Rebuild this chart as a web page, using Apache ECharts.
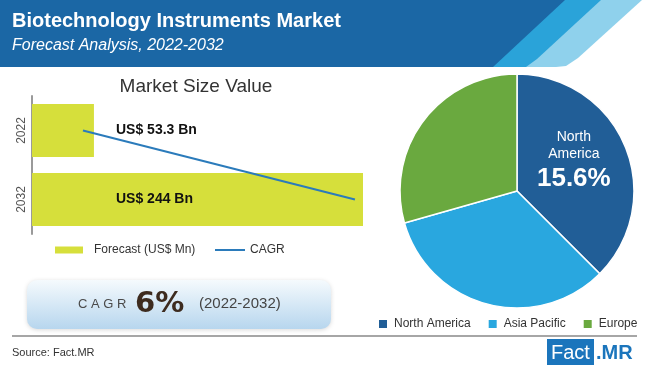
<!DOCTYPE html>
<html>
<head>
<meta charset="utf-8">
<script src="https://cdn.jsdelivr.net/npm/echarts@6/dist/echarts.min.js"></script>
<style>
html,body{margin:0;padding:0;background:#fff;}
#c{width:650px;height:370px;}
</style>
</head>
<body>
<div id="c"></div>
<script>
// ---- data ----
const years = ['2022', '2032'];
const marketSize = [53.3, 244];          // US$ Bn
const cagrLine = [45.5, 238.3];           // CAGR trend line (as drawn)
const regions = ['North America', 'Asia Pacific', 'Europe'];
const regionShare = [37.5, 33.1, 29.4];
const naCagrLabel = '15.6%';
const cagrValue = '6%';
const cagrPeriod = '(2022-2032)';
const titleText = 'Biotechnology Instruments Market';
const subtitleText = 'Forecast Analysis, 2022-2032';

const FONT = '"Liberation Sans", Arial, sans-serif';
const chart = echarts.init(document.getElementById('c'), null, {renderer: 'canvas'});

const option = {
  backgroundColor: '#ffffff',
  animation: false,
  grid: {left: 32, top: 96, width: 331, height: 138, containLabel: false},
  xAxis: {
    type: 'value', min: 9.4, max: 244, show: false,
    splitLine: {show: false}
  },
  yAxis: {
    type: 'category', data: years, inverse: true,
    axisLine: {show: true, lineStyle: {color: '#9a9a9a', width: 2}},
    axisTick: {show: false},
    axisLabel: {rotate: 90, fontSize: 12, color: '#555', margin: 4, fontFamily: FONT}
  },
  legend: [
    {
      data: ['Forecast (US$ Mn)'], left: 55, top: 244, icon: 'rect', padding: 0,
      itemWidth: 28, itemHeight: 7,
      textStyle: {fontSize: 12, color: '#333', fontFamily: FONT, padding: [0, 0, 0, 6]}
    },
    {
      data: ['CAGR'], left: 215, top: 244, icon: 'rect', padding: 0,
      itemWidth: 30, itemHeight: 2,
      textStyle: {fontSize: 12, color: '#333', fontFamily: FONT}
    },
    {
      data: regions, left: 377, top: 318, width: 273, icon: 'rect', padding: 0,
      itemWidth: 10, itemHeight: 10, itemGap: 16,
      textStyle: {fontSize: 12, color: '#333', fontFamily: FONT, padding: [0, 0, 0, 1]}
    }
  ],
  series: [
    {
      name: 'Forecast (US$ Mn)', type: 'bar', data: marketSize,
      barCategoryGap: '23%',
      itemStyle: {color: '#d6df3b'},
      label: {
        show: true, position: [84, '50%'], align: 'left', verticalAlign: 'middle',
        formatter: p => 'US$ ' + p.value + ' Bn',
        fontFamily: FONT, fontWeight: 'bold', fontSize: 14, color: '#111'
      },
      z: 2
    },
    {
      name: 'CAGR', type: 'line', data: cagrLine, symbol: 'none',
      lineStyle: {color: '#2b7bbb', width: 2}, itemStyle: {color: '#2b7bbb'},
      z: 3
    },
    {
      name: 'Region', type: 'pie', center: [517, 191], radius: 117,
      startAngle: 90, clockwise: true,
      itemStyle: {borderColor: '#fff', borderWidth: 1.5},
      data: regions.map((r, i) => ({
        name: r, value: regionShare[i],
        itemStyle: {color: ['#215e97', '#29a7df', '#6aa93f'][i]},
        label: i === 0 ? {
          show: true, position: 'inside', offset: [0, -6],
          formatter: '{a|North}\n{a|America}\n{b|' + naCagrLabel + '}',
          rich: {
            a: {color: '#fff', fontSize: 14, lineHeight: 17, fontFamily: FONT},
            b: {color: '#fff', fontSize: 26, fontWeight: 'bold', lineHeight: 32, fontFamily: FONT}
          }
        } : {show: false}
      })),
      labelLine: {show: false},
      emphasis: {disabled: true}
    }
  ],
  graphic: [
    // header band
    {type: 'polygon', shape: {points: [[490, 67], [560, 0], [642, 0], [578, 58], [566, 66], [556, 67]]},
     style: {fill: '#8fd1ec'}, z: 0},
    {type: 'polygon', shape: {points: [[490, 67], [562, 0], [601, 0], [537, 59], [526, 67]]},
     style: {fill: '#2aa3d9'}, z: 1},
    {type: 'polygon', shape: {points: [[0, 0], [565, 0], [493, 67], [0, 67]]},
     style: {fill: '#1b67a5'}, z: 2},
    {type: 'text', x: 12, y: 21, z: 3,
     style: {text: titleText, fill: '#fff', font: 'bold 20px ' + FONT, verticalAlign: 'middle'}},
    {type: 'text', x: 12, y: 46, z: 3,
     style: {text: subtitleText, fill: '#fff', font: 'italic 16px ' + FONT, verticalAlign: 'middle'}},
    // bar chart title
    {type: 'text', x: 196, y: 87,
     style: {text: 'Market Size Value', fill: '#333', font: '19px ' + FONT, align: 'center', verticalAlign: 'middle'}},
    // CAGR box
    {type: 'rect', shape: {x: 27, y: 280, width: 304, height: 49, r: 10},
     style: {
       fill: new echarts.graphic.LinearGradient(0, 0, 0, 1, [
         {offset: 0, color: '#f5fafd'}, {offset: 1, color: '#b7d6ee'}
       ]),
       shadowBlur: 4, shadowColor: 'rgba(0,0,0,0.15)', shadowOffsetY: 1
     }},
    {type: 'text', x: 78, y: 304,
     style: {text: 'C A G R', fill: '#4a4a4a', font: '13px ' + FONT, verticalAlign: 'middle'}},
    {type: 'text', x: 135, y: 304,
     style: {text: cagrValue, fill: '#3d2b1f', font: 'bold 29px "DejaVu Sans", sans-serif', verticalAlign: 'middle'}},
    {type: 'text', x: 199, y: 304,
     style: {text: cagrPeriod, fill: '#444', font: '15px ' + FONT, verticalAlign: 'middle'}},
    // footer line
    {type: 'line', shape: {x1: 12, y1: 336, x2: 637, y2: 336},
     style: {stroke: '#a6a6a6', lineWidth: 2}},
    {type: 'text', x: 12, y: 353,
     style: {text: 'Source: Fact.MR', fill: '#333', font: '11px ' + FONT, verticalAlign: 'middle'}},
    // logo
    {type: 'rect', shape: {x: 547, y: 339, width: 47, height: 26}, style: {fill: '#1b75bc'}},
    {type: 'text', x: 551, y: 353,
     style: {text: 'Fact', fill: '#fff', font: '20px ' + FONT, verticalAlign: 'middle'}},
    {type: 'text', x: 596, y: 353,
     style: {text: '.MR', fill: '#1b75bc', font: 'bold 20px ' + FONT, verticalAlign: 'middle'}}
  ]
};
chart.setOption(option);
</script>
</body>
</html>
